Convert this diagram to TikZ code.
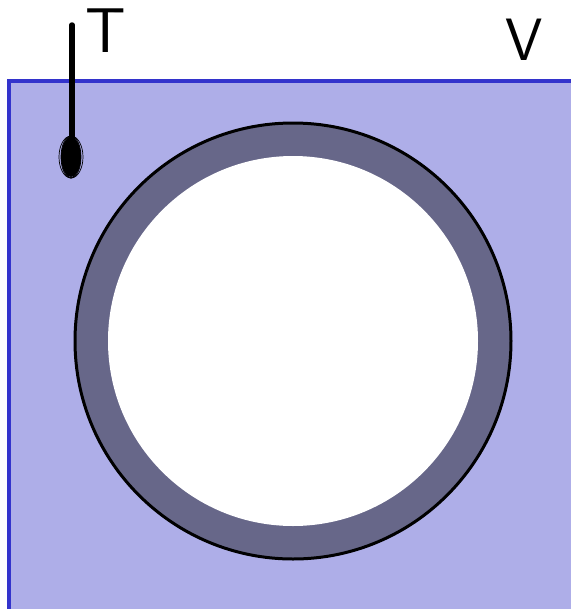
\documentclass[tikz,border=0pt]{standalone}
\usepackage{xcolor}
\usepackage{tikz}

\definecolor{bathblue}{HTML}{AEAEE8}
\definecolor{bathedge}{HTML}{3333CC}
\definecolor{pipegray}{HTML}{676789}

\begin{document}
\begin{tikzpicture}[x=0.02cm, y=-0.02cm]
\useasboundingbox (0,0) rectangle (571,609);
\clip (0,0) rectangle (571,609);
\coordinate (O) at (293,341);
\coordinate (Ttop) at (72,25);
\coordinate (Tbot) at (72,140);
\coordinate (Tbulb) at (71,157);
% bath
\fill[bathblue] (9,81) rectangle (600,640);
\draw[bathedge, line width=0.08cm] (600,81) -- (9,81) -- (9,640);
% pipe wall and bore
\fill[pipegray, draw=black, line width=0.06cm] (O) circle (218);
\fill[white] (O) circle (185);
% thermometer
\draw[black, line width=0.11cm, line cap=round] (Ttop) -- (Tbot);
\fill[black] (Tbulb) ellipse [x radius=10, y radius=20];
\foreach \r in {7,10,12}{
    \draw[black, thin] (Tbulb) ellipse [x radius=\r, y radius=21];
}
\node (T) at (106,31) {\fontsize{36}{36}\sffamily T};
\node (V) at (524,40) {\fontsize{34}{34}\sffamily V};
\end{tikzpicture}
\end{document}
